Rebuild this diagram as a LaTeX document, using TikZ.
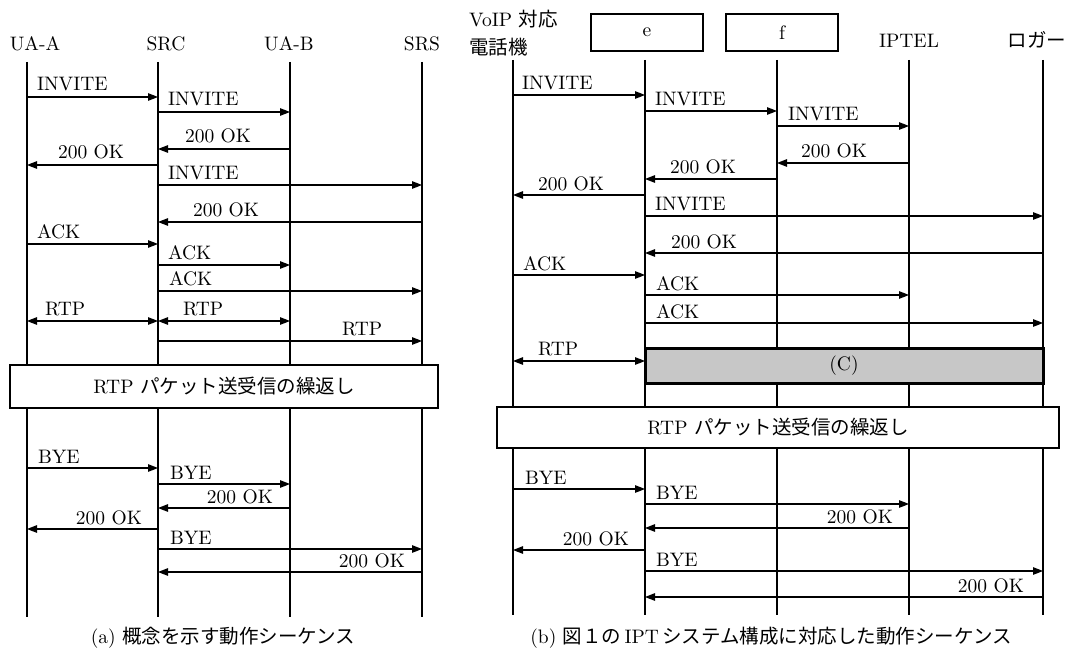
\documentclass[tikz,border=0pt]{standalone}
\usepackage{fontspec}
\setmainfont{lmroman10-regular.otf}
\newfontfamily\jp{Noto Sans CJK JP}
\usetikzlibrary{arrows.meta}
\begin{document}
\begin{tikzpicture}[x=1pt,y=-1pt,
  every node/.style={font=\fontsize{19.5}{24}\selectfont, inner sep=0pt, outer sep=0pt},
  life/.style={line width=1.5pt},
  msg/.style={line width=1.3pt, -{Triangle[length=10pt,width=7.5pt]}},
  bmsg/.style={line width=1.3pt, {Triangle[length=10pt,width=7.5pt]}-{Triangle[length=10pt,width=7.5pt]}},
  lbl/.style={anchor=base west},
  lblr/.style={anchor=base east},
  hdr/.style={anchor=base},
  entbox/.style={draw, line width=2.6pt, fill=white, minimum width=112pt, minimum height=37pt},
  cbox/.style={draw, line width=3pt, fill=black!22, minimum width=398pt, minimum height=35pt},
  rbox/.style={draw, line width=1.3pt, fill=white},
  captxt/.style={anchor=base}
]
\useasboundingbox (0,0) rectangle (1074,650);

% ---------------- (a) ----------------
\node[hdr] (hA) at (35,51) {UA-A};
\node[hdr] (hS) at (166,51) {SRC};
\node[hdr] (hB) at (289,51) {UA-B};
\node[hdr] (hR) at (422,51) {SRS};

\coordinate (A) at (27,62);   \coordinate (Ae) at (27,617);
\coordinate (S) at (158,62);  \coordinate (Se) at (158,617);
\coordinate (B) at (290,62);  \coordinate (Be) at (290,617);
\coordinate (R) at (422,62);  \coordinate (Re) at (422,617);
\draw[life] (A) -- (Ae);
\draw[life] (S) -- (Se);
\draw[life] (B) -- (Be);
\draw[life] (R) -- (Re);

\draw[msg] (A |- 0,97) -- (S |- 0,97);   \node[lbl] (a1) at (37,91) {INVITE};
\draw[msg] (S |- 0,112) -- (B |- 0,112); \node[lbl] (a2) at (168,106) {INVITE};
\draw[msg] (B |- 0,149) -- (S |- 0,149); \node[lbl] (a3) at (185,143) {200 OK};
\draw[msg] (S |- 0,165) -- (A |- 0,165); \node[lbl] (a4) at (58,159) {200 OK};
\draw[msg] (S |- 0,185) -- (R |- 0,185); \node[lbl] (a5) at (168,179) {INVITE};
\draw[msg] (R |- 0,222) -- (S |- 0,222); \node[lbl] (a6) at (193,216) {200 OK};
\draw[msg] (A |- 0,244) -- (S |- 0,244); \node[lbl] (a7) at (37,238) {ACK};
\draw[msg] (S |- 0,265) -- (B |- 0,265); \node[lbl] (a8) at (168,259) {ACK};
\draw[msg] (S |- 0,291) -- (R |- 0,291); \node[lbl] (a9) at (169,285) {ACK};
\draw[bmsg] (A |- 0,321) -- (S |- 0,321); \node[lbl] (a10) at (45,315) {RTP};
\draw[bmsg] (S |- 0,321) -- (B |- 0,321); \node[lbl] (a11) at (183,315) {RTP};
\draw[msg] (S |- 0,341) -- (R |- 0,341); \node[lbl] (a12) at (342,335) {RTP};

\node[rbox, minimum width=428pt, minimum height=43pt] (rtpA) at (224,386.5) {RTP {\jp パケット送受信の繰返し}};

\draw[msg] (A |- 0,468) -- (S |- 0,468); \node[lbl] (a13) at (38,463) {BYE};
\draw[msg] (S |- 0,484) -- (B |- 0,484); \node[lbl] (a14) at (170,479) {BYE};
\draw[msg] (B |- 0,508) -- (S |- 0,508); \node[lblr] (a15) at (273,503) {200 OK};
\draw[msg] (S |- 0,529) -- (A |- 0,529); \node[lblr] (a16) at (142,524) {200 OK};
\draw[msg] (S |- 0,549) -- (R |- 0,549); \node[lbl] (a17) at (170,544) {BYE};
\draw[msg] (R |- 0,572) -- (S |- 0,572); \node[lblr] (a18) at (405,567) {200 OK};

\node[captxt] (capA) at (223,643) {(a) {\jp 概念を示す動作シーケンス}};

% ---------------- (b) ----------------
\node[anchor=base west] (hV1) at (469,27) {VoIP {\jp 対応}};
\node[anchor=base west] (hV2) at (469,55) {\jp 電話機};
\node[entbox] (hE) at (647,32.5) {e};
\node[entbox] (hF) at (782,32.5) {f};
\node[hdr] (hI) at (909,48) {IPTEL};
\node[hdr] (hL) at (1037,48) {\jp ロガー};

\coordinate (V) at (513,60);  \coordinate (Ve) at (513,615);
\coordinate (E) at (645,60);  \coordinate (Ee) at (645,615);
\coordinate (F) at (777,60);  \coordinate (Fe) at (777,615);
\coordinate (I) at (909,60);  \coordinate (Ie) at (909,615);
\coordinate (L) at (1043,60); \coordinate (Le) at (1043,615);
\draw[life] (V) -- (Ve);
\draw[life] (E) -- (Ee);
\draw[life] (F) -- (Fe);
\draw[life] (I) -- (Ie);
\draw[life] (L) -- (Le);

\draw[msg] (V |- 0,95) -- (E |- 0,95);   \node[lbl] (b1) at (522,90) {INVITE};
\draw[msg] (E |- 0,111) -- (F |- 0,111); \node[lbl] (b2) at (655,106) {INVITE};
\draw[msg] (F |- 0,126) -- (I |- 0,126); \node[lbl] (b3) at (788,121) {INVITE};
\draw[msg] (I |- 0,163) -- (F |- 0,163); \node[lbl] (b4) at (801,158) {200 OK};
\draw[msg] (F |- 0,179) -- (E |- 0,179); \node[lbl] (b5) at (670,174) {200 OK};
\draw[msg] (E |- 0,195) -- (V |- 0,195); \node[lbl] (b6) at (538,190) {200 OK};
\draw[msg] (E |- 0,216) -- (L |- 0,216); \node[lbl] (b7) at (655,211) {INVITE};
\draw[msg] (L |- 0,253) -- (E |- 0,253); \node[lbl] (b8) at (671,248) {200 OK};
\draw[msg] (V |- 0,275) -- (E |- 0,275); \node[lbl] (b9) at (523,270) {ACK};
\draw[msg] (E |- 0,295) -- (I |- 0,295); \node[lbl] (b10) at (656,290) {ACK};
\draw[msg] (E |- 0,323) -- (L |- 0,323); \node[lbl] (b11) at (656,318) {ACK};
\draw[bmsg] (V |- 0,361) -- (E |- 0,361); \node[lbl] (b12) at (538,355) {RTP};

\node[cbox] (C) at (844,365.5) {(C)};
\node[rbox, minimum width=562pt, minimum height=41pt] (rtpB) at (778,427.5) {RTP {\jp パケット送受信の繰返し}};

\draw[msg] (V |- 0,489) -- (E |- 0,489); \node[lbl] (b13) at (525,484) {BYE};
\draw[msg] (E |- 0,504) -- (I |- 0,504); \node[lbl] (b14) at (656,499) {BYE};
\draw[msg] (I |- 0,528) -- (E |- 0,528); \node[lblr] (b15) at (893,523) {200 OK};
\draw[msg] (E |- 0,550) -- (V |- 0,550); \node[lblr] (b16) at (629,545) {200 OK};
\draw[msg] (E |- 0,571) -- (L |- 0,571); \node[lbl] (b17) at (656,566) {BYE};
\draw[msg] (L |- 0,597) -- (E |- 0,597); \node[lblr] (b18) at (1024,592) {200 OK};

\node[captxt] (capB) at (771,643) {(b) {\jp 図１の}\,IPT\,{\jp システム構成に対応した動作シーケンス}};
\end{tikzpicture}
\end{document}
